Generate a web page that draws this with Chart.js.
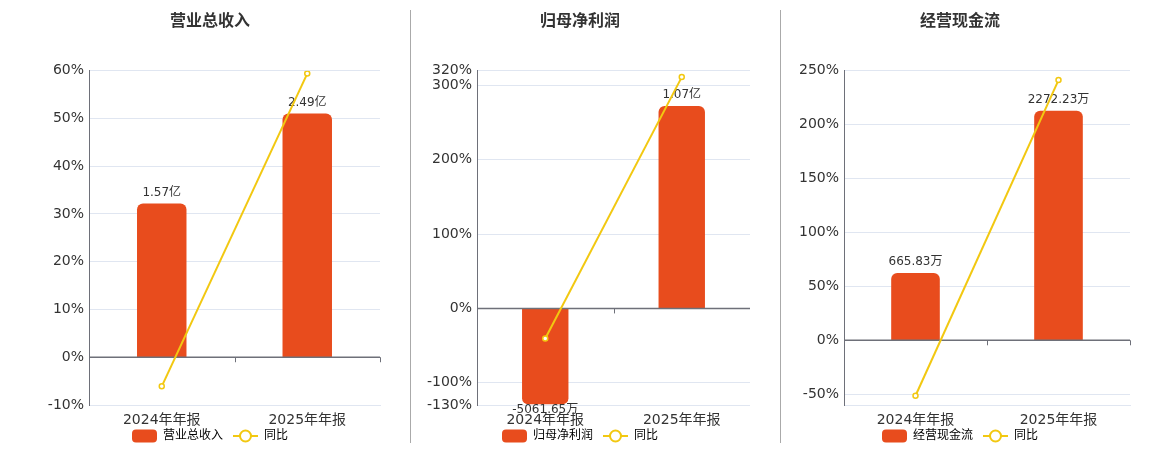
<!DOCTYPE html>
<html>
<head>
<meta charset="utf-8">
<script src="https://cdn.jsdelivr.net/npm/chart.js@4.4.0/dist/chart.umd.min.js"></script>
<style>
  body { margin: 0; background: #fff; width: 1160px; height: 450px; position: relative; overflow: hidden; }
  .panel { position: absolute; top: 0; }
  .sep { position: absolute; top: 10px; height: 433px; width: 1px; background: #aaa; }
</style>
</head>
<body>
<div class="panel" style="left:0"><canvas id="c1" width="420" height="452"></canvas></div>
<div class="sep" style="left:410px"></div>
<div class="panel" style="left:410px"><canvas id="c2" width="340" height="452"></canvas></div>
<div class="sep" style="left:780px"></div>
<div class="panel" style="left:780px"><canvas id="c3" width="360" height="452"></canvas></div>
<script>
const years = ['2024年年报', '2025年年报'];

// 营业总收入 (亿)
const revenue = [1.57, 2.49];
const revenueText = ['1.57亿', '2.49亿'];
const revenueYoY = [-6.1, 59.4];
const revenueTicks = [-10, 0, 10, 20, 30, 40, 50, 60];

// 归母净利润 (万)
const netProfit = [-5061.65, 10700];
const netProfitText = ['-5061.65万', '1.07亿'];
const netProfitYoY = [-40.5, 311.4];
const netProfitTicks = [-130, -100, 0, 100, 200, 300, 320];

// 经营现金流 (万)
const cashFlow = [665.83, 2272.23];
const cashFlowText = ['665.83万', '2272.23万'];
const cashFlowYoY = [-51.4, 241.3];
const cashFlowTicks = [-50, 0, 50, 100, 150, 200, 250];

const BAR = '#E84C1D';
const LINE = '#F2C811';
const FONT = "'DejaVu Sans', 'Noto Sans CJK SC', sans-serif";

Chart.defaults.font.family = FONT;
Chart.defaults.color = '#333';

function icon(draw) {
    const c = document.createElement('canvas');
    c.width = 25; c.height = 14;
    draw(c.getContext('2d'));
    return c;
}
const barIcon = icon(g => {
    g.fillStyle = BAR;
    g.beginPath(); g.roundRect(0, 0.5, 25, 13, 4); g.fill();
});
const lineIcon = icon(g => {
    g.strokeStyle = LINE; g.lineWidth = 2;
    g.beginPath(); g.moveTo(0, 7); g.lineTo(25, 7); g.stroke();
    g.beginPath(); g.arc(12.5, 7, 5.5, 0, Math.PI * 2);
    g.fillStyle = '#fff'; g.fill(); g.stroke();
});

function makeChart(id, title, bars, texts, yoy, ticks, pctMin, pctMax, barMax, leftW, rightW) {
    const overlay = {
        id: 'overlay',
        // labels on bars + zero axis, drawn right after the bars (below the line)
        afterDatasetDraw(chart, args) {
            if (args.index !== 0) return;
            const g = chart.ctx, a = chart.chartArea, x = chart.scales.x, y = chart.scales.y;
            const y0 = y.getPixelForValue(0);
            g.save();
            g.strokeStyle = '#6E7079';
            g.lineWidth = 1.5;
            g.beginPath(); g.moveTo(a.left, y0); g.lineTo(a.right, y0); g.stroke();
            g.lineWidth = 1;
            const mid = (x.getPixelForValue(0) + x.getPixelForValue(1)) / 2;
            [a.left, mid, a.right - 0.5].forEach(px => {
                g.beginPath(); g.moveTo(Math.round(px) + 0.5, y0); g.lineTo(Math.round(px) + 0.5, y0 + 5); g.stroke();
            });
            g.font = '12px ' + FONT;
            g.fillStyle = '#333';
            g.textAlign = 'center';
            g.textBaseline = 'middle';
            args.meta.data.forEach((el, i) => {
                g.fillText(texts[i], el.x, bars[i] >= 0 ? el.y - 11 : el.y + 6);
            });
            g.restore();
        },
        // category labels under the plot
        afterDraw(chart) {
            const g = chart.ctx, x = chart.scales.x, a = chart.chartArea;
            g.save();
            g.font = '14px ' + FONT;
            g.fillStyle = '#333';
            g.textAlign = 'center';
            g.textBaseline = 'middle';
            years.forEach((t, i) => g.fillText(t, x.getPixelForValue(i), a.bottom + 15));
            g.restore();
        }
    };
    return new Chart(document.getElementById(id), {
        data: {
            labels: years,
            datasets: [{
                type: 'bar',
                label: title,
                data: bars,
                yAxisID: 'y1',
                backgroundColor: BAR,
                borderRadius: 6,
                borderSkipped: 'start',
                barPercentage: 0.34,
                categoryPercentage: 1,
                order: 1
            }, {
                type: 'line',
                label: '同比',
                data: yoy,
                yAxisID: 'y',
                borderColor: LINE,
                borderWidth: 2,
                pointRadius: 2.5,
                pointBorderWidth: 1.5,
                pointBackgroundColor: '#fff',
                pointBorderColor: LINE,
                tension: 0,
                order: 0
            }]
        },
        options: {
            responsive: false,
            animation: false,
            layout: { padding: 0, autoPadding: false },
            plugins: {
                title: {
                    display: true,
                    text: title,
                    color: '#333',
                    font: { size: 16, weight: 'bold', lineHeight: 1.2 },
                    padding: { top: 12.5, bottom: 39 }
                },
                legend: {
                    position: 'bottom',
                    labels: {
                        usePointStyle: true,
                        pointStyleWidth: 25,
                        padding: 10,
                        color: '#555',
                        font: { size: 12 },
                        generateLabels: () => [
                            { text: title, pointStyle: barIcon, fillStyle: BAR, strokeStyle: BAR, lineWidth: 0, datasetIndex: 0, hidden: false },
                            { text: '同比', pointStyle: lineIcon, fillStyle: LINE, strokeStyle: LINE, lineWidth: 0, datasetIndex: 1, hidden: false }
                        ]
                    }
                },
                tooltip: { enabled: false }
            },
            scales: {
                x: {
                    grid: { display: false },
                    border: { color: '#E0E6F1' },
                    ticks: { display: false },
                    afterFit: s => { s.height = 15; }
                },
                y: {
                    position: 'left',
                    min: pctMin,
                    max: pctMax,
                    grid: { color: '#E0E6F1', drawTicks: false },
                    border: { color: '#6E7079' },
                    ticks: {
                        padding: 5,
                        autoSkip: false,
                        color: '#333',
                        font: { size: 14 },
                        callback: v => v + '%'
                    },
                    afterBuildTicks: s => { s.ticks = ticks.map(v => ({ value: v })); },
                    afterFit: s => { s.width = leftW; }
                },
                y1: {
                    position: 'right',
                    min: barMax * pctMin / pctMax,
                    max: barMax,
                    grid: { display: false },
                    border: { display: false },
                    ticks: { display: false },
                    afterFit: s => { s.width = rightW; }
                }
            }
        },
        plugins: [overlay]
    });
}

makeChart('c1', '营业总收入', revenue, revenueText, revenueYoY, revenueTicks, -10, 60, 2.926, 89, 40);
makeChart('c2', '归母净利润', netProfit, netProfitText, netProfitYoY, netProfitTicks, -130, 320, 12560, 67, 0);
makeChart('c3', '经营现金流', cashFlow, cashFlowText, cashFlowYoY, cashFlowTicks, -60, 250, 2668, 64, 10);
</script>
</body>
</html>
